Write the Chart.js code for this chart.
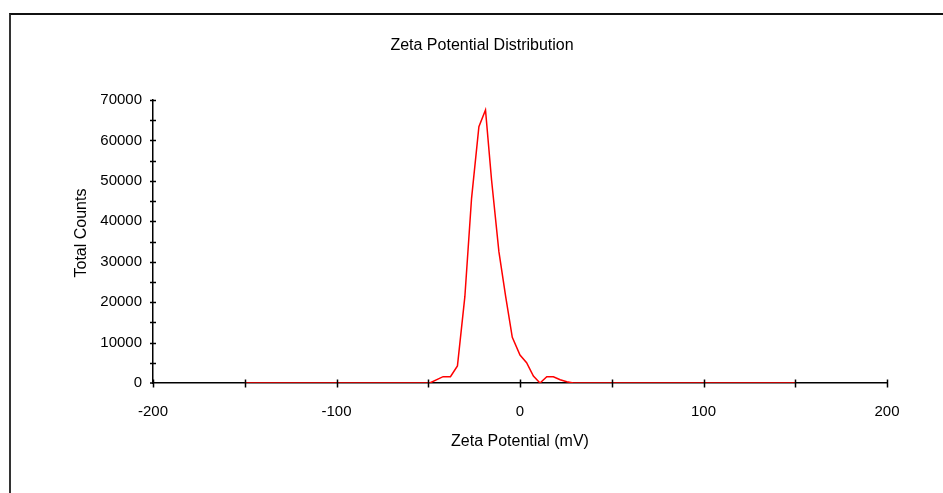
<!DOCTYPE html>
<html>
<head>
<meta charset="utf-8">
<script src="https://cdn.jsdelivr.net/npm/chart.js@4.4.0/dist/chart.umd.min.js"></script>
<style>
  body { margin: 0; background: #fff; }
  .marco { position: absolute; left: 9px; top: 13px; right: 0; bottom: 0; border-top: 2px solid #111; border-left: 2px solid #333; }
  .caja { position: absolute; left: 0; top: 0; width: 943px; height: 493px; }
</style>
</head>
<body>
<div class="marco"></div>
<div class="caja"><canvas id="grafica" width="943" height="493"></canvas></div>
<script>
const potencial = [-150, -49.2, -41.9, -37.9, -34.1, -30.05, -26.4, -22.4, -18.8, -15.5, -11.5, -7.8, -4.2, 0, 3.6, 7.3, 10.9, 14.6, 18.2, 21.9, 25.5, 29.1, 150]
const cuentas = [0, 0, 1560, 1560, 4200, 21350, 45680, 63400, 67520, 50200, 32480, 21350, 11300, 6925, 5030, 1730, 0, 1560, 1560, 800, 300, 0, 0]
const ticksX = [-200, -100, 0, 100, 200]
const ticksY = [0, 10000, 20000, 30000, 40000, 50000, 60000, 70000]

const titulo = 'Zeta Potential Distribution'
const tituloX = 'Zeta Potential (mV)'
const tituloY = 'Total Counts'

Chart.defaults.font.family = '"Liberation Sans", Arial, sans-serif'
Chart.defaults.color = '#000'

const puntos = potencial.map((v, i) => ({ x: v, y: cuentas[i] }))

// marcas que cruzan los ejes + titulos
const marcas = {
    id: 'marcas',
    afterDraw(chart) {
        const { ctx, chartArea, scales } = chart
        ctx.save()
        ctx.strokeStyle = '#000'
        ctx.lineWidth = 1.5
        for (let v = -200; v <= 200; v += 50) {
            const px = Math.round(scales.x.getPixelForValue(v)) + 0.5
            ctx.beginPath()
            ctx.moveTo(px, chartArea.bottom - 3.5)
            ctx.lineTo(px, chartArea.bottom + 4.5)
            ctx.stroke()
        }
        for (let v = 5000; v <= 70000; v += 5000) {
            const py = Math.round(scales.y.getPixelForValue(v)) + 0.5
            ctx.beginPath()
            ctx.moveTo(chartArea.left - 3, py)
            ctx.lineTo(chartArea.left + 3, py)
            ctx.stroke()
        }
        const py0 = scales.y.getPixelForValue(0)
        ctx.beginPath()
        ctx.moveTo(chartArea.left - 3, py0)
        ctx.lineTo(chartArea.left, py0)
        ctx.stroke()

        ctx.fillStyle = '#000'
        ctx.font = '16px "Liberation Sans", Arial, sans-serif'
        ctx.textAlign = 'center'
        ctx.textBaseline = 'middle'
        ctx.fillText(titulo, 482, 46)

        ctx.translate(82, 233)
        ctx.rotate(-Math.PI / 2)
        ctx.fillText(tituloY, 0, 0)
        ctx.restore()
    }
}

new Chart(document.getElementById('grafica'), {
    type: 'line',
    data: {
        datasets: [{
            data: puntos,
            borderColor: '#ff0000',
            borderWidth: 1.5,
            pointRadius: 0,
            tension: 0
        }]
    },
    options: {
        responsive: false,
        animation: false,
        layout: { padding: { left: 0, top: 100, right: 56, bottom: 0 } },
        plugins: { legend: { display: false }, tooltip: { enabled: false } },
        scales: {
            x: {
                type: 'linear',
                min: -200,
                max: 200,
                afterBuildTicks: (s) => { s.ticks = ticksX.map(v => ({ value: v })) },
                afterFit: (s) => { s.height = 110 },
                grid: { drawOnChartArea: false, drawTicks: false },
                border: { display: true, color: '#000', width: 1.5 },
                ticks: { font: { size: 15 }, padding: 20, maxRotation: 0 },
                title: { display: true, text: tituloX, font: { size: 16 }, padding: { top: 0, bottom: 42 } }
            },
            y: {
                min: 0,
                max: 70000,
                afterBuildTicks: (s) => { s.ticks = ticksY.map(v => ({ value: v })) },
                afterFit: (s) => { s.width = 153 },
                grid: { drawOnChartArea: false, drawTicks: false },
                border: { display: true, color: '#000', width: 1.5 },
                ticks: { font: { size: 15 }, padding: 11, callback: (v) => String(v) }
            }
        }
    },
    plugins: [marcas]
})
</script>
</body>
</html>
